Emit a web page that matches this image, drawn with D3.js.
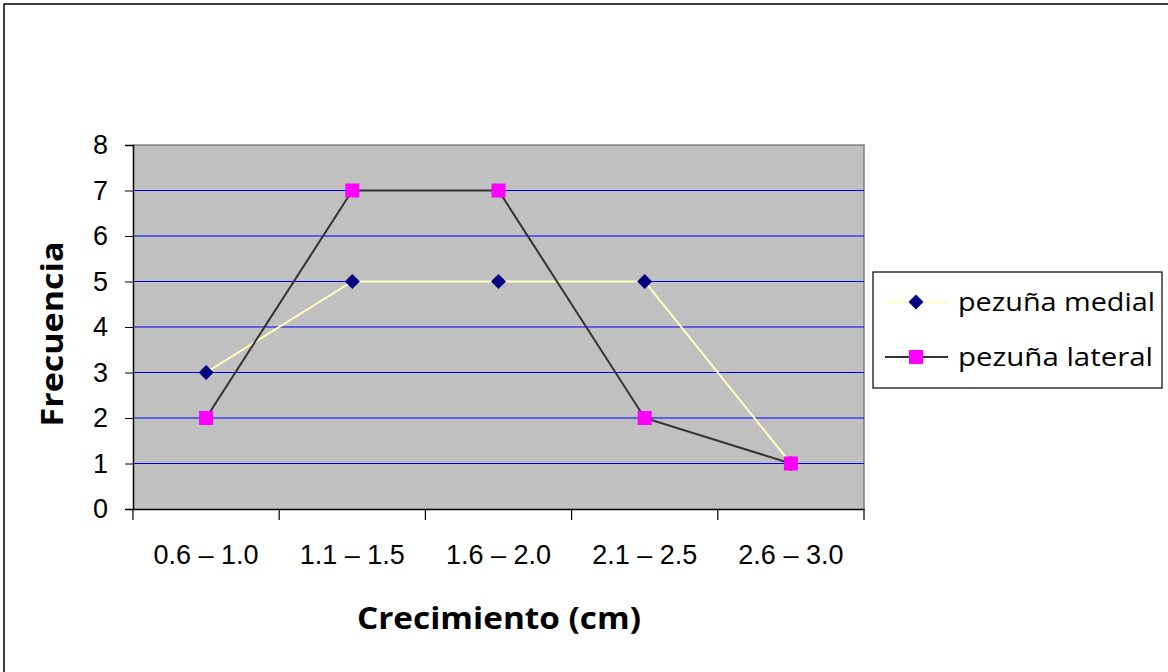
<!DOCTYPE html>
<html><head><meta charset="utf-8">
<script src="https://cdn.jsdelivr.net/npm/d3@7"></script>
<style>body{margin:0;background:#fff}svg{display:block}</style>
</head><body>
<svg id="c" width="1168" height="672"></svg>
<script>
const categories = ["0.6 – 1.0","1.1 – 1.5","1.6 – 2.0","2.1 – 2.5","2.6 – 3.0"];
const medial = [3,5,5,5,1];
const lateral = [2,7,7,2,1];
const yTicks = [0,1,2,3,4,5,6,7,8];
const seriesNames = ["pezuña medial","pezuña lateral"];

const svg = d3.select("#c");
const L=133,R=864,T=145,B=509;
svg.append("rect").attr("x",4).attr("y",4).attr("width",1200).attr("height",700)
  .attr("fill","#fff").attr("stroke","#000").attr("stroke-width",1.5);

const x = d3.scaleBand().domain(categories).range([L,R]);
const y = d3.scaleLinear().domain([0,8]).range([B,T]);

svg.append("rect").attr("x",L).attr("y",T).attr("width",R-L).attr("height",B-T)
  .attr("fill","#c0c0c0");
svg.append("path").attr("d",`M${L},${T}H${R}V${B}`).attr("fill","none").attr("stroke","#808080").attr("stroke-width",1.5);

svg.append("g").selectAll("line").data(yTicks.filter(d=>d>0&&d<8)).join("line")
  .attr("x1",L).attr("x2",R).attr("y1",d=>y(d)).attr("y2",d=>y(d))
  .attr("stroke","#0000ff").attr("stroke-width",1);

const ya = svg.append("g").attr("transform",`translate(${L},0)`)
  .call(d3.axisLeft(y).tickValues(yTicks).tickSize(8).tickPadding(17).tickFormat(d3.format("d")));
ya.select(".domain").attr("stroke","#000").attr("stroke-width",1.5);
ya.selectAll(".tick line").attr("stroke","#000");
ya.selectAll("text").attr("font-family","Liberation Sans, Arial").attr("font-size",27).attr("fill","#000");

const xa = svg.append("g").attr("transform",`translate(0,${B})`)
  .call(d3.axisBottom(x).tickSize(0).tickPadding(36));
xa.select(".domain").attr("stroke","#000").attr("stroke-width",1.5);
xa.selectAll("text").attr("font-family","Liberation Sans, Arial").attr("font-size",27).attr("fill","#000");
const bounds = categories.map(c=>x(c)).concat([R]);
xa.selectAll(".bt").data(bounds).join("line").attr("class","bt")
  .attr("x1",d=>d).attr("x2",d=>d).attr("y1",0).attr("y2",11).attr("stroke","#000").attr("stroke-width",1.2);

const cx = c=>x(c)+x.bandwidth()/2;
const line = d3.line().x((d,i)=>cx(categories[i])).y(d=>y(d));

svg.append("path").datum(medial).attr("d",line).attr("fill","none").attr("stroke","#ffffc0").attr("stroke-width",2);
svg.append("path").datum(lateral).attr("d",line).attr("fill","none").attr("stroke","#333333").attr("stroke-width",2);

const diamond = (cxp,cyp,s)=>`M${cxp},${cyp-s}L${cxp+s},${cyp}L${cxp},${cyp+s}L${cxp-s},${cyp}Z`;
svg.append("g").selectAll("path").data(medial).join("path")
  .attr("d",(d,i)=>diamond(cx(categories[i]),y(d),7.5)).attr("fill","#000080");
svg.append("g").selectAll("rect").data(lateral).join("rect")
  .attr("x",(d,i)=>cx(categories[i])-7).attr("y",d=>y(d)-7).attr("width",14).attr("height",14).attr("fill","#ff00ff");

svg.append("text").attr("x",499).attr("y",629).attr("text-anchor","middle")
  .attr("font-family","Open Sans, DejaVu Sans").attr("font-weight","bold").attr("font-size",30)
  .attr("textLength",284).attr("lengthAdjust","spacingAndGlyphs").text("Crecimiento (cm)");
svg.append("text").attr("transform","translate(63,334) rotate(-90)").attr("text-anchor","middle")
  .attr("font-family","Open Sans, DejaVu Sans").attr("font-weight","bold").attr("font-size",30)
  .attr("textLength",185).attr("lengthAdjust","spacingAndGlyphs").text("Frecuencia");

const lg = svg.append("g");
lg.append("rect").attr("x",873).attr("y",272).attr("width",289).attr("height",116).attr("fill","#fff").attr("stroke","#000").attr("stroke-width",1.2);
const ly=[302,357];
lg.append("line").attr("x1",885).attr("x2",948).attr("y1",ly[0]).attr("y2",ly[0]).attr("stroke","#ffffc0").attr("stroke-width",2);
lg.append("path").attr("d",diamond(916,ly[0],7.5)).attr("fill","#000080");
lg.append("line").attr("x1",885).attr("x2",948).attr("y1",ly[1]).attr("y2",ly[1]).attr("stroke","#333333").attr("stroke-width",2);
lg.append("rect").attr("x",909).attr("y",ly[1]-7).attr("width",14).attr("height",14).attr("fill","#ff00ff");
const lw=[197,195];
lg.selectAll("text.l").data(seriesNames).join("text").attr("class","l")
  .attr("x",958).attr("y",(d,i)=>ly[i]+9).attr("font-family","Open Sans, DejaVu Sans").attr("font-size",25)
  .attr("textLength",(d,i)=>lw[i]).attr("lengthAdjust","spacingAndGlyphs").text(d=>d);
</script>
</body></html>
